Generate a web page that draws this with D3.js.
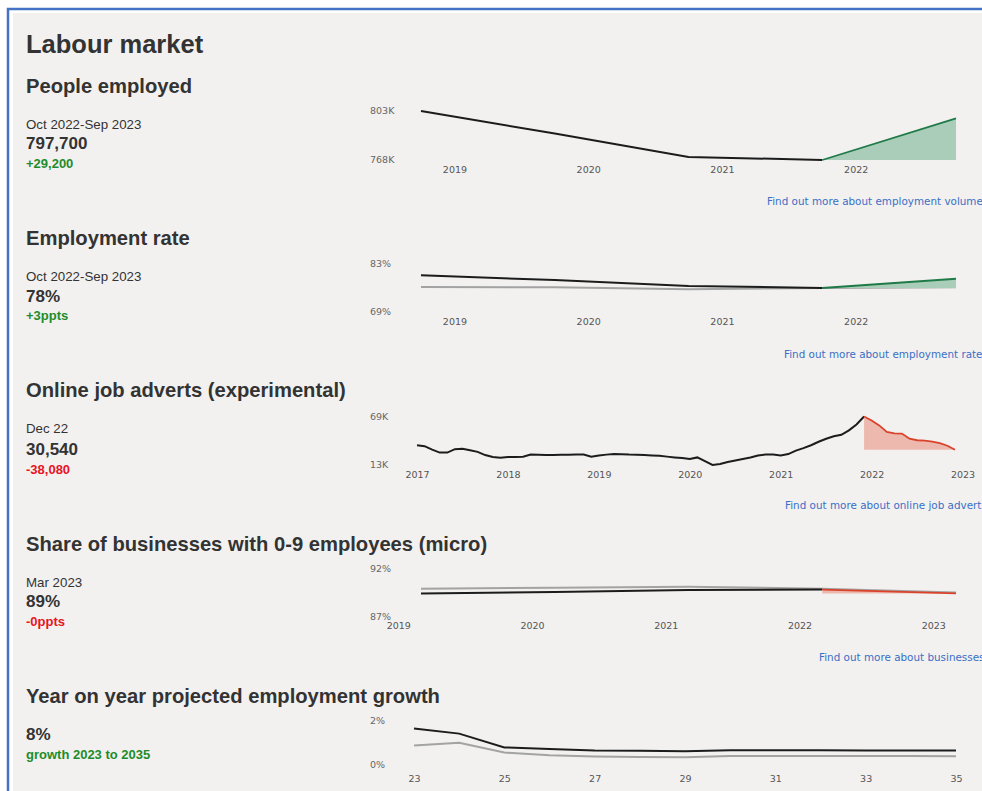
<!DOCTYPE html>
<html>
<head>
<meta charset="utf-8">
<script src="https://cdn.jsdelivr.net/npm/d3@7/dist/d3.min.js"></script>
<style>
    html, body { margin: 0; padding: 0; background: #fff; overflow: hidden; }
    svg { display: block; }
</style>
</head>
<body>
<div id="chart"></div>
<script>
//people employed (annual, Oct-Sep)
let employedYears = [2018.75, 2019.75, 2020.75, 2021.75, 2022.75];
let employedValues = [803000, 787000, 770500, 768300, 797700];
let employedTicks = [2019, 2020, 2021, 2022];

//employment rate, area and comparison (grey)
let rateYears = [2018.75, 2019.75, 2020.75, 2021.75, 2022.75];
let rateValues = [79.7, 78.3, 76.6, 76.0, 78.7];
let rateCompareValues = [76.3, 76.2, 75.6, 76.0, 76.2];
let rateTicks = [2019, 2020, 2021, 2022];

//online job adverts, monthly Jan 2017 - Dec 2022
let advertStart = 2017;
let advertValues = [
    35700, 34600, 30600, 27200, 27200, 31200, 31700, 30000, 28100, 24400, 22100, 21300,
    22100, 22100, 22400, 25100, 24700, 24400, 24400, 24700, 24700, 24900, 25100, 22400,
    23800, 24900, 25500, 25300, 24900, 24700, 24400, 24000, 23600, 22600, 21700, 20900,
    19800, 21700, 17500, 13000, 14100, 16400, 18100, 19800, 21500, 23800, 24900, 24900,
    23800, 25500, 29500, 32300, 35700, 39700, 43100, 45900, 47600, 52700, 59500, 68620,
    64100, 58400, 51000, 49300, 49000, 43100, 41400, 41000, 39700, 38000, 35100, 30540
];
let advertTicks = [2017, 2018, 2019, 2020, 2021, 2022, 2023];

//share of micro businesses (March each year)
let microYears = [2019.17, 2020.17, 2021.17, 2022.17, 2023.17];
let microValues = [89.4, 89.55, 89.75, 89.8, 89.4];
let microCompareValues = [89.9, 90.0, 90.1, 89.9, 89.5];
let microTicks = [2019, 2020, 2021, 2022, 2023];

//projected employment growth year on year
let growthYears = [2023, 2024, 2025, 2026, 2027, 2028, 2029, 2030, 2031, 2032, 2033, 2034, 2035];
let growthValues = [1.64, 1.41, 0.79, 0.72, 0.65, 0.64, 0.62, 0.66, 0.66, 0.66, 0.65, 0.65, 0.65];
let growthCompareValues = [0.88, 1.0, 0.56, 0.44, 0.38, 0.36, 0.35, 0.41, 0.41, 0.41, 0.40, 0.40, 0.39];
let growthTicks = [2023, 2025, 2027, 2029, 2031, 2033, 2035];

let W = 982, H = 791;
let font = '"Liberation Sans", Arial, sans-serif';
let smallFont = '"DejaVu Sans", Verdana, sans-serif';
let green = '#1e8c2a', red = '#e8141e';

let svg = d3.select('#chart').append('svg').attr('width', W).attr('height', H);

//frame: blue line top and left only
svg.append('rect').attr('width', W).attr('height', H).attr('fill', '#fff');
svg.append('rect').attr('x', 13).attr('y', 13).attr('width', W).attr('height', H).attr('fill', '#f2f1f0');
svg.append('path').attr('d', 'M8,' + (H + 5) + 'V9H' + (W + 5))
    .attr('fill', 'none').attr('stroke', '#4472c4').attr('stroke-width', 2.5);

svg.append('text').attr('x', 26).attr('y', 53)
    .attr('font-family', font).attr('font-size', 25.5).attr('font-weight', 'bold')
    .attr('fill', '#333').text('Labour market');

let kFormat = function (v) { return Math.round(v / 1000) + 'K'; };
let pctFormat = function (v) { return v + '%'; };

//one panel: text block on the left, sparkline on the right
let drawPanel = function (p) {
    let g = svg.append('g');
    g.append('text').attr('x', 26).attr('y', p.top)
        .attr('font-family', font).attr('font-size', 20.2).attr('font-weight', 'bold')
        .attr('fill', '#333').text(p.title);
    if (p.date) {
        g.append('text').attr('x', 26).attr('y', p.top + 36)
            .attr('font-family', font).attr('font-size', 13.3).attr('fill', '#333').text(p.date);
    }
    g.append('text').attr('x', 26).attr('y', p.top + p.valueDy)
        .attr('font-family', font).attr('font-size', 17).attr('font-weight', 'bold')
        .attr('fill', '#333').text(p.value);
    g.append('text').attr('x', 26).attr('y', p.top + p.valueDy + 18.5)
        .attr('font-family', font).attr('font-size', 13).attr('font-weight', 'bold')
        .attr('fill', p.changeColor).text(p.change);

    let xScale = d3.scaleLinear().domain(p.xDomain).range(p.xRange);
    let yScale = d3.scaleLinear().domain(p.yDomain).range(p.yRange);

    //y labels only at both ends
    g.selectAll('text.ylab')
        .data(p.yDomain)
        .enter()
        .append('text')
        .attr('class', 'ylab')
        .attr('x', 370)
        .attr('y', function (d) { return yScale(d); })
        .attr('dy', '0.35em')
        .attr('font-family', smallFont).attr('font-size', 9.5).attr('fill', '#666')
        .text(p.yFormat);

    //x axis without lines
    let axis = d3.axisBottom(xScale)
        .tickValues(p.ticks)
        .tickSize(0)
        .tickPadding(0)
        .tickFormat(p.tickFormat);
    let ax = g.append('g').attr('transform', 'translate(0,' + (p.tickY - 4) + ')').call(axis);
    ax.select('.domain').remove();
    ax.selectAll('text').attr('font-family', smallFont).attr('font-size', 9.5).attr('fill', '#555');

    let pts = p.xs.map(function (x, i) { return [x, p.values[i]]; });
    let line = d3.line()
        .x(function (d) { return xScale(d[0]); })
        .y(function (d) { return yScale(d[1]); });

    if (p.compare) {
        let cpts = p.xs.map(function (x, i) { return [x, p.compare[i]]; });
        g.append('path').attr('d', line(cpts))
            .attr('fill', 'none').attr('stroke', '#a3a3a3').attr('stroke-width', 2);
    }

    let hi = p.highlight;
    if (hi === undefined) {
        g.append('path').attr('d', line(pts))
            .attr('fill', 'none').attr('stroke', '#1c1c1c').attr('stroke-width', 2);
        return;
    }
    let recent = pts.slice(hi);
    g.append('path').attr('d', line(pts.slice(0, hi + 1)))
        .attr('fill', 'none').attr('stroke', '#1c1c1c').attr('stroke-width', 2);

    //fill between the recent stretch and its lower end
    let base = Math.min(recent[0][1], recent[recent.length - 1][1]);
    let area = d3.area()
        .x(function (d) { return xScale(d[0]); })
        .y0(yScale(base))
        .y1(function (d) { return yScale(d[1]); });
    let up = recent[recent.length - 1][1] >= recent[0][1];
    g.append('path').attr('d', area(recent))
        .attr('fill', up ? '#a9cdb8' : '#edb9ae');
    g.append('path').attr('d', line(recent))
        .attr('fill', 'none').attr('stroke', up ? '#1f7a48' : '#d9432c').attr('stroke-width', 1.8);

    g.append('text').attr('x', p.linkX).attr('y', p.linkY).attr('dy', '0.35em')
        .attr('font-family', smallFont).attr('font-size', 10.4).attr('fill', '#3a6fc6')
        .text(p.link);
};

drawPanel({
    title: 'People employed', top: 93, date: 'Oct 2022-Sep 2023', valueDy: 56,
    value: '797,700', change: '+29,200', changeColor: green,
    xs: employedYears, values: employedValues, highlight: 3,
    xDomain: [2018.75, 2022.75], xRange: [421, 956],
    yDomain: d3.extent(employedValues).reverse(), yRange: [111, 160], yFormat: kFormat,
    ticks: employedTicks, tickFormat: d3.format('d'), tickY: 170,
    link: 'Find out more about employment volumes', linkX: 767, linkY: 201
});

drawPanel({
    title: 'Employment rate', top: 245, date: 'Oct 2022-Sep 2023', valueDy: 56.5,
    value: '78%', change: '+3ppts', changeColor: green,
    xs: rateYears, values: rateValues, compare: rateCompareValues, highlight: 3,
    xDomain: [2018.75, 2022.75], xRange: [421, 956],
    yDomain: [83, 69], yRange: [264, 312], yFormat: pctFormat,
    ticks: rateTicks, tickFormat: d3.format('d'), tickY: 322,
    link: 'Find out more about employment rates', linkX: 784, linkY: 354
});

drawPanel({
    title: 'Online job adverts (experimental)', top: 397, date: 'Dec 22', valueDy: 58,
    value: '30,540', change: '-38,080', changeColor: red,
    xs: advertValues.map(function (v, i) { return advertStart + i / 12; }),
    values: advertValues, highlight: 59,
    xDomain: [2017, 2017 + 71 / 12], xRange: [417, 955],
    yDomain: d3.extent(advertValues).reverse(), yRange: [416.5, 465], yFormat: kFormat,
    ticks: advertTicks, tickFormat: d3.format('d'), tickY: 475,
    link: 'Find out more about online job adverts', linkX: 785, linkY: 505
});

drawPanel({
    title: 'Share of businesses with 0-9 employees (micro)', top: 551, date: 'Mar 2023', valueDy: 56,
    value: '89%', change: '-0ppts', changeColor: red,
    xs: microYears, values: microValues, compare: microCompareValues, highlight: 3,
    xDomain: [2019.17, 2023.17], xRange: [421, 956],
    yDomain: [92, 87], yRange: [568.5, 616.5], yFormat: pctFormat,
    ticks: microTicks, tickFormat: d3.format('d'), tickY: 626.5,
    link: 'Find out more about businesses', linkX: 819, linkY: 657
});

drawPanel({
    title: 'Year on year projected employment growth', top: 703, valueDy: 37,
    value: '8%', change: 'growth 2023 to 2035', changeColor: green,
    xs: growthYears, values: growthValues, compare: growthCompareValues,
    xDomain: [2023, 2035], xRange: [414, 956],
    yDomain: [2, 0], yRange: [720.5, 765], yFormat: pctFormat,
    ticks: growthTicks, tickFormat: function (d) { return String(d).slice(2); }, tickY: 779
});
</script>
</body>
</html>
